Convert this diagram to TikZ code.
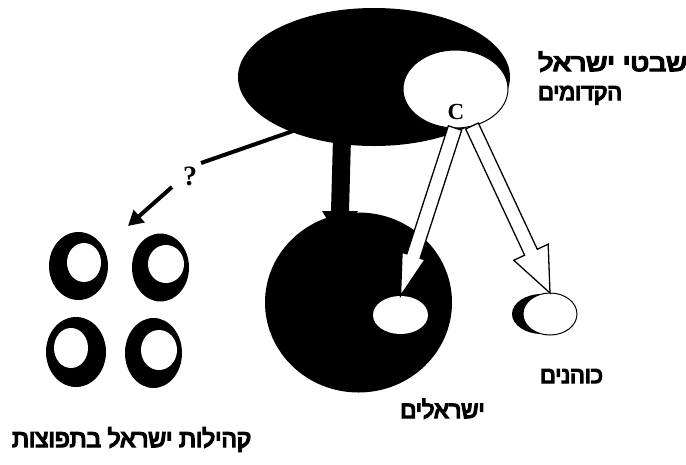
\documentclass[tikz,border=0pt]{standalone}
\usepackage{fontspec}
\setmainfont{Liberation Serif}
\newfontfamily\hebfont[Script=Hebrew,FakeBold=6]{Liberation Sans}
\TeXXeTstate=1
\usetikzlibrary{shapes.geometric,calc,arrows.meta}
\newcommand{\hollowarrow}[4]{%
  \path (#1) coordinate (ha-s) (#2) coordinate (ha-t);
  \coordinate (ha-m) at ($(ha-t)!#3!(ha-s)$);
  \filldraw[hollow] ($(ha-s)!7pt!90:(ha-t)$) -- ($(ha-m)!7pt!90:(ha-t)$)
    -- ($(ha-m)!#4!90:(ha-t)$) -- (ha-t) -- ($(ha-m)!#4!-90:(ha-t)$)
    -- ($(ha-m)!7pt!-90:(ha-t)$) -- ($(ha-s)!7pt!-90:(ha-t)$) -- cycle;
}
\begin{document}
\begin{tikzpicture}[x=1pt,y=-1pt,
  blk/.style={ellipse,fill=black,inner sep=0pt,outer sep=0pt},
  wht/.style={ellipse,fill=white,inner sep=0pt,outer sep=0pt},
  heb/.style={font=\hebfont\fontsize{23}{25}\selectfont,inner sep=0pt},
  hollow/.style={fill=white,draw=black,line width=1.3pt,line join=miter},
  thickline/.style={line width=4pt},
]
\useasboundingbox[fill=white] (0,0) rectangle (686,464);

% ancient tribes
\node[blk,minimum width=272pt,minimum height=138pt] (bige) at (374,77) {};
\node[wht,draw=black,line width=1pt,minimum width=105pt,minimum height=78pt] (wt) at (455.5,89) {};

% thick black arrow down
\coordinate (st) at (341,138);
\coordinate (sh) at (340,240);
\fill ($(st)+(-8,0)$) -- ($(st)+(10,0)$) -- ($(sh)+(9,-29)$) -- ($(sh)+(18,-29)$)
  -- (sh) -- ($(sh)+(-18,-29)$) -- ($(sh)+(-9,-29)$) -- cycle;

% Israelites
\node[blk,minimum width=187pt,minimum height=180pt] (isrc) at (358.5,302.5) {};
\node[wht,minimum width=55pt,minimum height=38pt] (isr) at (400.5,315) {};

% Kohanim
\node[blk,minimum width=60pt,minimum height=40pt] (kohb) at (542,314) {};
\node[wht,draw=black,line width=1pt,minimum width=54pt,minimum height=42pt] (koh) at (550,314) {};

% hollow arrows
\coordinate (s1) at (455,128);
\coordinate (s2) at (472,126);
\hollowarrow{s1}{isr.north}{42pt}{12pt}
\hollowarrow{s2}{koh.north}{45pt}{19pt}

\node[font=\bfseries\fontsize{23}{23}\selectfont,inner sep=0pt] (c) at (456,112) {C};

% question branch
\coordinate (qs) at (293,131);
\coordinate (qe) at (201,163);
\node[font=\bfseries\fontsize{28}{28}\selectfont,inner sep=0pt] (q) at (190,176) {?};
\coordinate (qa) at (172,187);
\coordinate (qt) at (128,226);
\draw[thickline] (qs) -- (qe);
\draw[thickline,-{Triangle[length=15pt,width=16pt]}] (qa) -- (qt);

% diaspora communities
\node[blk,minimum width=59pt,minimum height=68pt] (r1) at (78.5,266) {};
\node[wht,minimum width=34pt,minimum height=39pt] at (84,262.5) {};
\node[blk,minimum width=57pt,minimum height=68pt] (r2) at (160.5,267.5) {};
\node[wht,minimum width=36pt,minimum height=38pt] at (166,264) {};
\node[blk,minimum width=60pt,minimum height=70pt] (r3) at (76,352) {};
\node[wht,minimum width=34pt,minimum height=40pt] at (71,348) {};
\node[blk,minimum width=57pt,minimum height=70pt] (r4) at (153.5,353) {};
\node[wht,minimum width=36pt,minimum height=40pt] at (159,350) {};

% labels
\node[heb,anchor=base west] (t1) at (538,71) {\scalebox{1.2}[1]{\fontsize{24}{25}\selectfont\beginR שבטי ישראל\endR}};
\node[heb,anchor=base west] (t2) at (538,100) {\beginR הקדומים\endR};
\node[heb,anchor=base] (t3) at (571.5,383) {\beginR כוהנים\endR};
\node[heb,anchor=base] (t4) at (442.5,418) {\fontsize{23.5}{25}\selectfont\beginR ישראלים\endR};
\node[heb,anchor=base west] (t5) at (12,447) {\fontsize{24.3}{26}\selectfont\beginR קהילות ישראל בתפוצות\endR};
\end{tikzpicture}
\end{document}
